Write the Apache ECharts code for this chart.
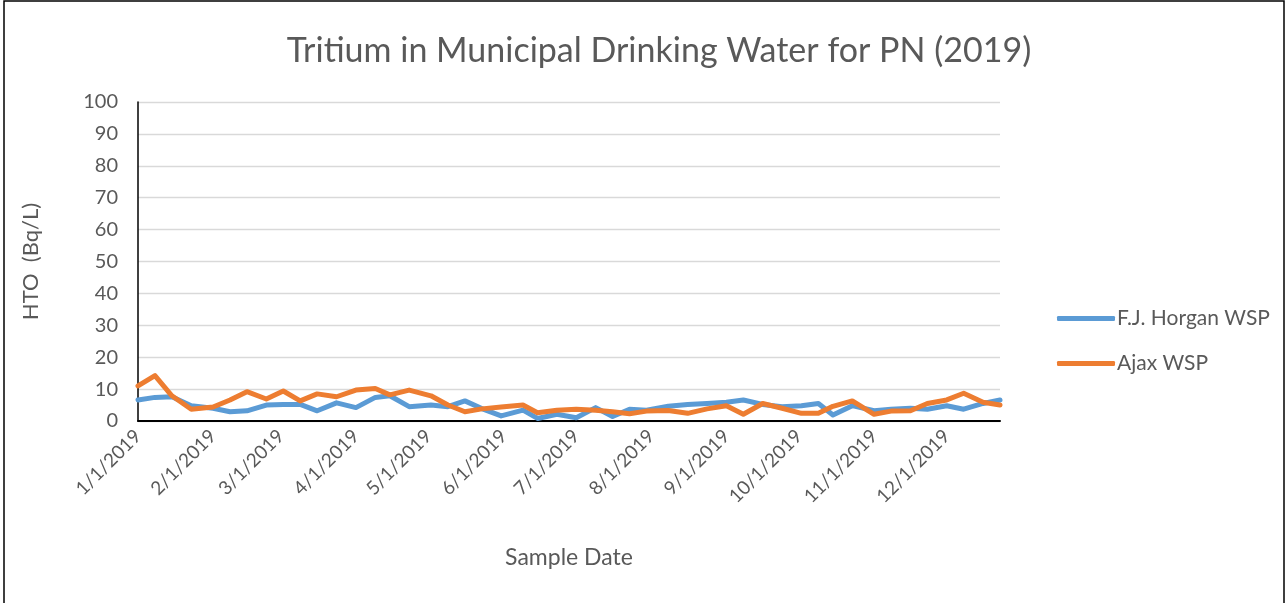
<!DOCTYPE html>
<html>
<head>
<meta charset="utf-8">
<script src="https://cdn.jsdelivr.net/npm/echarts@6/dist/echarts.min.js"></script>
<style>
html,body{margin:0;padding:0;background:#fff;}
#chart{width:1285px;height:603px;}
</style>
</head>
<body>
<div id="chart"></div>
<script>
const titleText = 'Tritium in Municipal Drinking Water for PN (2019)';
const seriesNames = ['F.J. Horgan WSP', 'Ajax WSP'];
const sampleDates = [
  '2019-01-01','2019-01-08','2019-01-15','2019-01-23','2019-02-01','2019-02-08','2019-02-15','2019-02-23',
  '2019-03-02','2019-03-09','2019-03-16','2019-03-24','2019-04-01','2019-04-09','2019-04-15','2019-04-23',
  '2019-05-02','2019-05-09','2019-05-16','2019-05-23','2019-05-31','2019-06-09','2019-06-15','2019-06-23',
  '2019-07-01','2019-07-09','2019-07-16','2019-07-23','2019-07-30','2019-08-08','2019-08-16','2019-08-24',
  '2019-09-01','2019-09-08','2019-09-16','2019-09-24','2019-10-02','2019-10-09','2019-10-15','2019-10-23',
  '2019-11-01','2019-11-08','2019-11-16','2019-11-23','2019-12-01','2019-12-08','2019-12-16','2019-12-23'
];
const horganValues = [
  6.6, 7.4, 7.6, 4.8, 4.0, 2.9, 3.2, 5.0,
  5.2, 5.2, 3.2, 5.7, 4.2, 7.4, 7.9, 4.5,
  5.0, 4.5, 6.3, 3.9, 1.6, 3.4, 0.8, 2.1,
  1.0, 4.2, 1.4, 3.7, 3.4, 4.6, 5.2, 5.5,
  5.9, 6.6, 5.2, 4.5, 4.8, 5.5, 1.9, 4.8,
  3.2, 3.7, 4.0, 3.7, 4.8, 3.7, 5.5, 6.6
];
const ajaxValues = [
  11.0, 14.2, 7.9, 3.7, 4.4, 6.6, 9.2, 6.9,
  9.4, 6.3, 8.5, 7.6, 9.7, 10.2, 8.2, 9.7,
  7.9, 5.0, 2.9, 3.8, 4.4, 5.0, 2.6, 3.4,
  3.7, 3.4, 2.9, 2.3, 3.1, 3.3, 2.4, 3.8,
  4.8, 2.1, 5.5, 4.0, 2.4, 2.4, 4.6, 6.3,
  2.1, 3.1, 3.2, 5.5, 6.6, 8.7, 5.9, 5.0
];
const monthTickDates = ['2019-01-01','2019-02-01','2019-03-01','2019-04-01','2019-05-01','2019-06-01',
  '2019-07-01','2019-08-01','2019-09-01','2019-10-01','2019-11-01','2019-12-01'];
const yAxisName = 'HTO  (Bq/L)';
const xAxisName = 'Sample Date';

const DAY = 86400000;
const BASE = Date.UTC(2019, 0, 1);
function dayOf(s){ const p = s.split('-').map(Number); return Math.round((Date.UTC(p[0], p[1]-1, p[2]) - BASE) / DAY); }
function fmt(v){ const d = new Date(BASE + Math.round(v) * DAY); return (d.getUTCMonth()+1) + '/' + d.getUTCDate() + '/' + d.getUTCFullYear(); }

const FONT = 'Lato, "Open Sans", sans-serif';
const TXT = '#595959';
const chart = echarts.init(document.getElementById('chart'));
chart.setOption({
  animation: false,
  backgroundColor: '#fff',
  title: {
    text: titleText, left: 654, textAlign: 'center', top: 29,
    textStyle: { fontFamily: FONT, fontSize: 34, fontWeight: 'normal', color: TXT }
  },
  legend: {
    orient: 'vertical', left: 1057, top: 308, itemGap: 24, padding: 0,
    itemWidth: 58, itemHeight: 5,
    icon: 'roundRect',
    textStyle: { fontFamily: FONT, fontSize: 21, color: TXT, padding: [0,0,0,-3] },
    data: seriesNames
  },
  graphic: [{
    type: 'rect', shape: { x: 4, y: 1, width: 1280, height: 610 },
    style: { fill: 'none', stroke: '#000', lineWidth: 1.5 }, silent: true
  }],
  grid: { left: 138, right: 285, top: 102, bottom: 182 },
  xAxis: {
    type: 'value',
    min: dayOf(sampleDates[0]), max: dayOf(sampleDates[sampleDates.length-1]),
    name: xAxisName, nameLocation: 'middle', nameGap: 125,
    nameTextStyle: { fontFamily: FONT, fontSize: 23, color: TXT },
    axisLine: { lineStyle: { color: '#000', width: 2 } },
    axisTick: { show: false },
    splitLine: { show: false },
    axisLabel: {
      customValues: monthTickDates.map(dayOf),
      formatter: fmt, rotate: 45, margin: 12,
      fontFamily: FONT, fontSize: 19, color: TXT, hideOverlap: false
    }
  },
  yAxis: {
    type: 'value', min: 0, max: 100, interval: 10,
    name: yAxisName, nameLocation: 'middle', nameGap: 96, nameRotate: 90,
    nameTextStyle: { fontFamily: FONT, fontSize: 22, color: TXT },
    axisLine: { show: true, lineStyle: { color: '#000', width: 1.5 } },
    axisTick: { show: false },
    splitLine: { lineStyle: { color: '#d9d9d9', width: 1.3 } },
    axisLabel: { fontFamily: FONT, fontSize: 20, color: TXT, margin: 20 }
  },
  series: [
    {
      name: seriesNames[0], type: 'line', symbol: 'none',
      data: sampleDates.map((d,i) => [dayOf(d), horganValues[i]]),
      lineStyle: { color: '#5B9BD5', width: 5, cap: 'round', join: 'round' },
      itemStyle: { color: '#5B9BD5' }, z: 2
    },
    {
      name: seriesNames[1], type: 'line', symbol: 'none',
      data: sampleDates.map((d,i) => [dayOf(d), ajaxValues[i]]),
      lineStyle: { color: '#ED7D31', width: 5, cap: 'round', join: 'round' },
      itemStyle: { color: '#ED7D31' }, z: 3
    }
  ]
});
</script>
</body>
</html>
